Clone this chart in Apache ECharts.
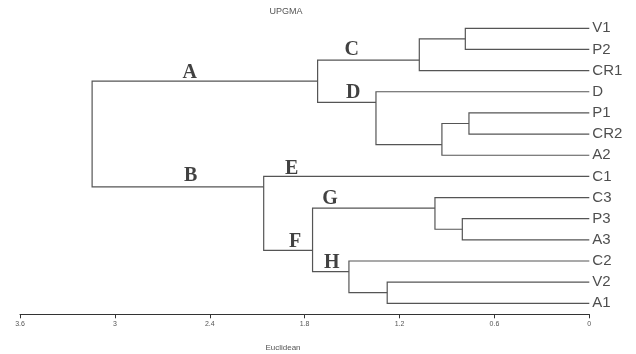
<!DOCTYPE html>
<html>
<head>
<meta charset="utf-8">
<script src="https://cdn.jsdelivr.net/npm/echarts@6/dist/echarts.min.js"></script>
<style>html,body{margin:0;padding:0;background:#fff}#c{width:636px;height:354px}</style>
</head>
<body>
<div id="c"></div>
<script>
// Leaves, top to bottom
const leaves = ['V1','P2','CR1','D','P1','CR2','A2','C1','C3','P3','A3','C2','V2','A1'];
// Merges: [child1, child2, height (Euclidean), row of the node's stem]; '#k' refers to merge k
const merges = [
  ['V1', 'P2', 0.784, 0.5],    // #0
  ['#0', 'CR1', 1.075, 1.5],   // #1
  ['P1', 'CR2', 0.761, 4.5],   // #2
  ['#2', 'A2', 0.932, 5.5],    // #3
  ['D', '#3', 1.349, 3.5],     // #4
  ['#1', '#4', 1.718, 2.5],    // #5
  ['P3', 'A3', 0.803, 9.5],    // #6
  ['C3', '#6', 0.976, 8.5],    // #7
  ['V2', 'A1', 1.278, 12.5],   // #8
  ['C2', '#8', 1.520, 11.5],   // #9
  ['#7', '#9', 1.750, 10.5],   // #10
  ['C1', '#10', 2.059, 7.5],   // #11
  ['#5', '#11', 3.144, 5.0]    // #12 root
];
// Branch annotations: [letter, distance, row]
const branchLabels = [
  ['A', 2.526, 2.10], ['B', 2.521, 6.97],
  ['C', 1.503, 1.03], ['D', 1.493, 3.03],
  ['E', 1.882, 6.62], ['F', 1.860, 10.09],
  ['G', 1.640, 8.08], ['H', 1.629, 11.11]
];
const xTicks = [0, 0.6, 1.2, 1.8, 2.4, 3, 3.6];

// layout
const nodeInfo = [];
function info(ref) {
  if (ref[0] === '#') return nodeInfo[+ref.slice(1)];
  const i = leaves.indexOf(ref);
  return { h: 0, y: i };
}
const segs = [];
merges.forEach(function (m) {
  const a = info(m[0]), b = info(m[1]), h = m[2];
  nodeInfo.push({ h: h, y: m[3] });
  segs.push({ coords: [[a.h, a.y], [h, a.y], [h, b.y], [b.h, b.y]] });
});

const chart = echarts.init(document.getElementById('c'), null, { renderer: 'canvas' });
chart.setOption({
  animation: false,
  backgroundColor: '#fff',
  grid: { left: 20, right: 46.7, top: 7.15, bottom: 39.7 },
  xAxis: {
    type: 'value', inverse: true, min: 0, max: 3.6, interval: 0.6, position: 'bottom',
    axisLine: { show: true, onZero: false, lineStyle: { color: '#333', width: 1 } },
    axisTick: { show: true, length: 4, lineStyle: { color: '#333' } },
    axisLabel: { fontSize: 7, color: '#555', margin: 6, fontFamily: 'Liberation Sans',
      formatter: function (v) { return xTicks.indexOf(+v.toFixed(1)) >= 0 ? String(+v.toFixed(1)) : ''; } },
    splitLine: { show: false }
  },
  yAxis: { type: 'value', inverse: true, min: -1, max: 13.52, show: false },
  graphic: [
    { type: 'text', x: 286, y: 12, style: { text: 'UPGMA', fontSize: 9, fill: '#555',
      fontFamily: 'Liberation Sans', align: 'center', verticalAlign: 'middle' } },
    { type: 'text', x: 283, y: 348, style: { text: 'Euclidean', fontSize: 8, fill: '#555',
      fontFamily: 'Liberation Sans', align: 'center', verticalAlign: 'middle' } }
  ],
  series: [
    {
      type: 'lines', coordinateSystem: 'cartesian2d', polyline: true,
      lineStyle: { color: '#555', width: 1.2, opacity: 1 },
      data: segs, silent: true
    },
    {
      type: 'scatter', symbolSize: 0, silent: true,
      data: leaves.map(function (n, i) { return { name: n, value: [0, i] }; }),
      label: { show: true, position: 'right', distance: 3, formatter: '{b}',
        fontSize: 15, color: '#222', fontFamily: 'Liberation Sans' }
    },
    {
      type: 'scatter', symbolSize: 0, silent: true,
      data: branchLabels.map(function (b) { return { name: b[0], value: [b[1], b[2]] }; }),
      label: { show: true, position: 'inside', formatter: '{b}', fontSize: 20,
        fontWeight: 'bold', color: '#111', fontFamily: 'Liberation Serif' }
    }
  ]
});
</script>
</body>
</html>
